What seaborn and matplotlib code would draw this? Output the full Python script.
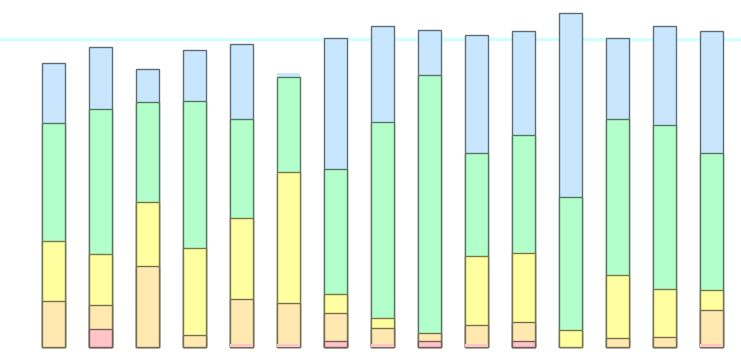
import matplotlib
matplotlib.use("Agg")
import matplotlib.pyplot as plt
import matplotlib.colors as mcolors
import numpy as np
import pandas as pd
import seaborn as sns

categories = ["A", "B", "C", "D", "E", "F", "G", "H", "I", "J", "K", "L", "M", "N", "O"]
pink   = [0, 5.8, 0, 0, 1.0, 1.0, 2.0, 1.0, 2.0, 1.0, 2.0, 0, 0, 0, 1.0]
orange = [15.0, 7.9, 26.4, 3.9, 14.6, 13.3, 9.0, 5.2, 2.4, 6.2, 6.1, 0, 2.9, 3.3, 11.0]
yellow = [19.5, 16.6, 20.8, 28.3, 26.3, 42.6, 6.3, 3.3, 0, 22.4, 22.5, 5.5, 20.4, 15.6, 6.3]
green  = [38.3, 46.9, 32.5, 47.8, 32.3, 31.0, 40.6, 63.7, 84.1, 33.5, 38.4, 43.2, 50.9, 53.1, 44.8]
blue   = [19.4, 20.3, 10.5, 16.4, 24.2, 1.1, 42.5, 31.1, 14.5, 38.3, 33.7, 59.8, 26.1, 32.3, 39.6]
target = 100

series = [pink, orange, yellow, green, blue]
fills = ["#ffc4c8", "#ffe9b0", "#ffff9f", "#b3ffcc", "#c9e6ff"]

sns.set_theme(style="white")
fig = plt.figure(figsize=(7.41, 3.57), dpi=100)
ax = fig.add_axes([0, 0, 1, 1])

ax.axhline(target, color="#d0ffff", lw=2.3, zorder=0)

cum = np.cumsum(np.array(series), axis=0)
for k in range(len(series) - 1, -1, -1):
    df = pd.DataFrame({"cat": categories, "val": cum[k]})
    fill = np.array(mcolors.to_rgb(fills[k]))
    edge = tuple(fill * 0.47)
    n_before = len(ax.patches)
    sns.barplot(data=df, x="cat", y="val", color=fills[k], saturation=1,
                edgecolor=edge, linewidth=1.0, width=0.49, errorbar=None,
                ax=ax, zorder=2)
    for p, seg in zip(ax.patches[n_before:], series[k]):
        if seg < 1.5:
            p.set_linewidth(0)

ax.set_xlim(-1.138, 14.628)
ax.set_ylim(-3.35, 112.8)
ax.set_axis_off()
fig.savefig("out.png", dpi=100)
